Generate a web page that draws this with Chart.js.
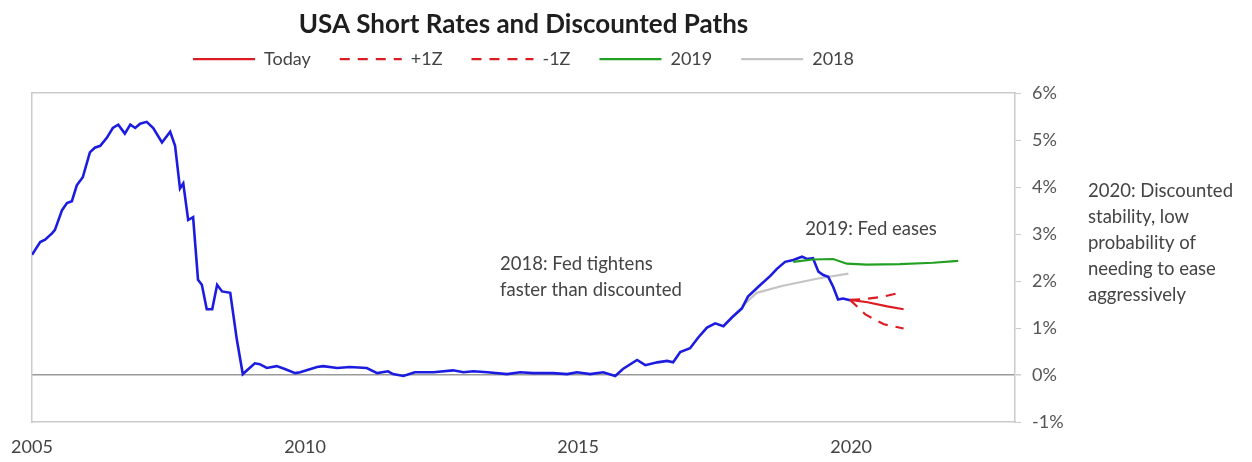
<!DOCTYPE html>
<html><head><meta charset="utf-8">
<script src="https://cdn.jsdelivr.net/npm/chart.js@4.4.0/dist/chart.umd.min.js"></script>
<style>html,body{margin:0;padding:0;background:#fff}#wrap{width:1252px;height:462px}</style>
</head><body><div id="wrap"><canvas id="c" width="1252" height="462"></canvas></div>
<script>
// ---- data ----
const shortRateDates = [2005.00,2005.15,2005.24,2005.37,2005.42,2005.55,2005.64,2005.73,2005.82,2005.93,2006.06,2006.15,2006.25,2006.37,2006.48,2006.58,2006.70,2006.80,2006.89,2006.98,2007.10,2007.22,2007.38,2007.53,2007.62,2007.71,2007.77,2007.86,2007.95,2008.04,2008.11,2008.20,2008.30,2008.39,2008.48,2008.63,2008.75,2008.86,2009.08,2009.17,2009.30,2009.48,2009.63,2009.82,2009.91,2010.22,2010.33,2010.59,2010.82,2011.13,2011.32,2011.52,2011.61,2011.80,2012.01,2012.35,2012.71,2012.90,2013.08,2013.34,2013.70,2013.94,2014.18,2014.54,2014.80,2014.98,2015.22,2015.46,2015.68,2015.82,2016.08,2016.23,2016.45,2016.63,2016.74,2016.87,2017.05,2017.20,2017.36,2017.51,2017.66,2017.82,2018.00,2018.11,2018.30,2018.52,2018.64,2018.79,2018.94,2019.10,2019.19,2019.30,2019.40,2019.49,2019.58,2019.67,2019.76,2019.85,2019.98];
const shortRateValues = [2.56,2.83,2.88,3.02,3.09,3.51,3.66,3.70,4.04,4.21,4.74,4.84,4.88,5.05,5.26,5.33,5.14,5.33,5.26,5.35,5.39,5.26,4.95,5.18,4.88,3.97,4.08,3.30,3.36,2.03,1.92,1.40,1.40,1.92,1.78,1.75,0.76,0.02,0.25,0.23,0.15,0.19,0.13,0.04,0.06,0.17,0.19,0.15,0.17,0.15,0.04,0.08,0.02,-0.02,0.06,0.06,0.10,0.06,0.08,0.06,0.02,0.06,0.04,0.04,0.02,0.06,0.02,0.06,-0.02,0.13,0.32,0.21,0.27,0.30,0.27,0.49,0.57,0.80,1.01,1.10,1.04,1.23,1.42,1.67,1.88,2.11,2.26,2.41,2.45,2.52,2.47,2.49,2.20,2.13,2.09,1.88,1.61,1.63,1.59];

const todayDates = [2019.98,2020.30,2020.66,2020.96];
const todayValues = [1.60,1.55,1.46,1.40];
const plus1zDates = [2019.98,2020.25,2020.55,2020.85];
const plus1zValues = [1.60,1.62,1.66,1.74];
const minus1zDates = [2019.98,2020.26,2020.60,2020.96];
const minus1zValues = [1.60,1.29,1.08,0.99];
const path2019Dates = [2018.94,2019.30,2019.67,2019.92,2020.29,2020.89,2021.50,2021.96];
const path2019Values = [2.41,2.46,2.47,2.37,2.35,2.36,2.39,2.43];
const path2018Dates = [2018.00,2018.27,2018.75,2019.37,2019.95];
const path2018Values = [1.46,1.75,1.90,2.05,2.16];

const xTickYears = [2005,2010,2015,2020];
const yTickValues = [-1,0,1,2,3,4,5,6];

const noteTightens = ['2018: Fed tightens','faster than discounted'];
const noteEases = ['2019: Fed eases'];
const note2020 = ['2020: Discounted','stability, low','probability of','needing to ease','aggressively'];

// ---- build ----
const pts = (xs, ys) => xs.map((x, i) => ({x, y: ys[i]}));
const FONT = 'Lato, "Open Sans", sans-serif';
const FRAME = '#cbcbcb';

const notesPlugin = {
  id: 'notes',
  afterLayout(chart) {
    // centre title and legend over the plot area, as in the original
    const ca = chart.chartArea;
    [chart.titleBlock, chart.legend].forEach(b => {
      if (!b) return;
      b.left = ca.left; b.right = ca.right; b.width = ca.right - ca.left;
    });
  },
  afterDatasetsDraw(chart) {
    const {ctx, chartArea} = chart;
    const x = chart.scales.x, y = chart.scales.y;
    ctx.save();
    ctx.font = '18.5px ' + FONT;
    ctx.fillStyle = '#444';
    ctx.textBaseline = 'middle';
    ctx.textAlign = 'left';
    const lh = 26;
    noteTightens.forEach((t, i) => ctx.fillText(t, x.getPixelForValue(2013.57), y.getPixelForValue(2.37) + i * lh));
    noteEases.forEach((t, i) => ctx.fillText(t, x.getPixelForValue(2019.16), y.getPixelForValue(3.11) + i * lh));
    note2020.forEach((t, i) => ctx.fillText(t, chartArea.right + 73, y.getPixelForValue(3.92) + i * lh));
    ctx.restore();
  }
};

new Chart(document.getElementById('c'), {
  type: 'line',
  data: {
    datasets: [
      {label: 'Short rate', data: pts(shortRateDates, shortRateValues), borderColor: '#1c1ce0', borderWidth: 2.6, pointRadius: 0, order: 1},
      {label: 'Today', data: pts(todayDates, todayValues), borderColor: '#dc1c24', backgroundColor: '#dc1c24', borderWidth: 2.2, pointRadius: 0, order: 0},
      {label: '+1Z', data: pts(plus1zDates, plus1zValues), borderColor: '#dc1c24', backgroundColor: '#dc1c24', borderWidth: 2.2, borderDash: [10, 8], pointRadius: 0, order: 0},
      {label: '-1Z', data: pts(minus1zDates, minus1zValues), borderColor: '#dc1c24', backgroundColor: '#dc1c24', borderWidth: 2.2, borderDash: [10, 8], pointRadius: 0, order: 0},
      {label: '2019', data: pts(path2019Dates, path2019Values), borderColor: '#22a022', backgroundColor: '#22a022', borderWidth: 2.2, pointRadius: 0, order: 0},
      {label: '2018', data: pts(path2018Dates, path2018Values), borderColor: '#c4c4c4', backgroundColor: '#c4c4c4', borderWidth: 2.2, pointRadius: 0, order: 2}
    ]
  },
  options: {
    responsive: false,
    devicePixelRatio: 1,
    animation: false,
    layout: {padding: {left: 32, top: 0, right: 0, bottom: 0}},
    plugins: {
      tooltip: {enabled: false},
      title: {
        display: true,
        text: 'USA Short Rates and Discounted Paths',
        font: {family: FONT, size: 26, weight: 'bold'},
        color: '#1e1e1e',
        padding: {top: 9, bottom: -19}
      },
      legend: {
        display: true,
        labels: {
          usePointStyle: true,
          pointStyle: 'line',
          pointStyleWidth: 62,
          font: {family: FONT, size: 18},
          color: '#444',
          padding: 29,
          generateLabels: chart => Chart.defaults.plugins.legend.labels.generateLabels(chart)
            .filter(it => it.text !== 'Short rate')
            .map(it => {
              const ds = chart.data.datasets[it.datasetIndex];
              it.lineDash = ds.borderDash || [];
              it.lineWidth = 2.2;
              it.strokeStyle = ds.borderColor;
              return it;
            })
        }
      }
    },
    scales: {
      x: {
        type: 'linear',
        min: 2005,
        max: 2023,
        afterBuildTicks: s => { s.ticks = xTickYears.map(v => ({value: v})); },
        afterFit: s => { s.height = 40; s.paddingLeft = 0; s.paddingRight = 0; },
        ticks: {
          callback: v => String(v),
          font: {family: FONT, size: 18},
          color: '#444',
          padding: 14,
          maxRotation: 0
        },
        grid: {display: true, drawOnChartArea: false, drawTicks: false},
        border: {display: true, color: FRAME, width: 1.5}
      },
      xTop: {
        type: 'linear',
        position: 'top',
        min: 2005,
        max: 2023,
        afterFit: s => { s.height = 15; s.paddingLeft = 0; s.paddingRight = 0; },
        ticks: {display: false},
        grid: {display: false},
        border: {display: true, color: FRAME, width: 1.5}
      },
      y: {
        position: 'right',
        min: -1,
        max: 6,
        afterBuildTicks: s => { s.ticks = yTickValues.map(v => ({value: v})); },
        afterFit: s => { s.width = 237; },
        ticks: {
          callback: v => v + '%',
          font: {family: FONT, size: 18},
          color: '#555',
          padding: 11
        },
        grid: {
          drawOnChartArea: true,
          tickLength: 6,
          tickColor: FRAME,
          color: c => (c.tick && c.tick.value === 0) ? '#9a9a9a' : 'rgba(0,0,0,0)',
          lineWidth: c => (c.tick && c.tick.value === 0) ? 1.5 : 1
        },
        border: {display: true, color: FRAME, width: 1.5}
      },
      yLeft: {
        position: 'left',
        min: -1,
        max: 6,
        afterFit: s => { s.width = 0; },
        ticks: {display: false},
        grid: {display: false},
        border: {display: true, color: FRAME, width: 1.5}
      }
    }
  },
  plugins: [notesPlugin]
});
</script></body></html>
